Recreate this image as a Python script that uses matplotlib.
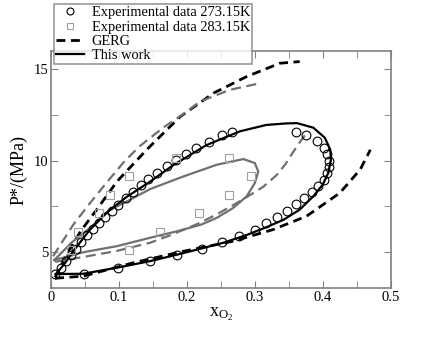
import matplotlib
matplotlib.use("Agg")
import matplotlib.pyplot as plt
from matplotlib.ticker import MultipleLocator
from matplotlib.lines import Line2D

plt.rcParams['font.family'] = ['Liberation Serif', 'DejaVu Serif']
plt.rcParams['mathtext.fontset'] = 'custom'
plt.rcParams['mathtext.rm'] = 'Liberation Serif'
plt.rcParams['mathtext.it'] = 'Liberation Serif'

# experimental data 273.15 K (circles)
exp273_x = [0.006, 0.014, 0.022, 0.029, 0.037, 0.044, 0.053, 0.062, 0.071, 0.080,
            0.089, 0.099, 0.110, 0.120, 0.133, 0.143, 0.156, 0.170, 0.184, 0.198,
            0.214, 0.232, 0.251, 0.266,
            0.360, 0.375, 0.392, 0.402, 0.406, 0.409, 0.409, 0.406, 0.402, 0.393,
            0.384, 0.373, 0.360, 0.348, 0.333, 0.317, 0.300, 0.276, 0.252, 0.222,
            0.185, 0.145, 0.098, 0.048]
exp273_p = [3.81, 4.13, 4.49, 4.85, 5.18, 5.53, 5.91, 6.26, 6.58, 6.91,
            7.24, 7.57, 7.93, 8.28, 8.68, 8.99, 9.32, 9.68, 10.04, 10.37,
            10.70, 11.04, 11.39, 11.57,
            11.57, 11.39, 11.07, 10.70, 10.37, 10.00, 9.64, 9.30, 8.95, 8.62,
            8.30, 7.97, 7.62, 7.26, 6.91, 6.56, 6.22, 5.87, 5.53, 5.18,
            4.84, 4.49, 4.14, 3.80]

# experimental data 283.15 K (squares)
exp283_x = [0.029, 0.040, 0.071, 0.087, 0.115, 0.184,
            0.262, 0.294, 0.262, 0.218, 0.160, 0.115]
exp283_p = [5.12, 6.10, 7.12, 8.11, 9.13, 10.13,
            10.15, 9.13, 8.11, 7.11, 6.11, 5.08]

# GERG 273.15 K
gerg273_x = [0.006, 0.025, 0.045, 0.067, 0.097, 0.141, 0.190, 0.239, 0.288, 0.337, 0.366]
gerg273_p = [3.60, 5.00, 6.20, 7.30, 8.85, 10.60, 12.40, 13.69, 14.60, 15.33, 15.42]
gerg273b_x = [0.006, 0.048, 0.121, 0.195, 0.268, 0.327, 0.376, 0.425, 0.455, 0.470]
gerg273b_p = [3.55, 3.67, 4.40, 5.03, 5.58, 6.22, 6.95, 8.22, 9.50, 10.59]

# GERG 283.15 K
gerg283_x = [0.003, 0.033, 0.058, 0.082, 0.109, 0.131, 0.165, 0.200, 0.219, 0.263, 0.307]
gerg283_p = [4.76, 6.50, 7.70, 8.80, 10.00, 10.80, 11.80, 12.68, 13.23, 13.87, 14.23]
gerg283b_x = [0.006, 0.048, 0.097, 0.146, 0.175, 0.214, 0.244, 0.278, 0.312, 0.332,
              0.345, 0.357, 0.367, 0.374]
gerg283b_p = [4.45, 4.72, 5.05, 5.50, 5.90, 6.50, 7.05, 7.77, 8.55, 9.20,
              9.80, 10.50, 11.05, 11.39]

# this work 273.15 K
work273_x = [0.007, 0.020, 0.033, 0.057, 0.082, 0.111, 0.146, 0.180, 0.229, 0.278,
             0.317, 0.345, 0.362, 0.386, 0.403, 0.411, 0.412, 0.408, 0.400, 0.386,
             0.366, 0.342, 0.317, 0.290, 0.254, 0.219, 0.185, 0.146, 0.097, 0.048, 0.007]
work273_p = [3.78, 4.35, 5.05, 6.20, 7.15, 8.00, 8.85, 9.75, 10.85, 11.60,
             11.95, 12.03, 12.05, 11.80, 11.25, 10.60, 10.04, 9.32, 8.68, 8.04,
             7.31, 6.75, 6.35, 5.95, 5.50, 5.16, 4.84, 4.49, 4.13, 3.80, 3.78]

# this work 283.15 K
work283_x = [0.005, 0.030, 0.057, 0.087, 0.111, 0.146, 0.195, 0.244, 0.283, 0.300,
             0.305, 0.300, 0.288, 0.268, 0.244, 0.221, 0.186, 0.146, 0.097, 0.048, 0.005]
work283_p = [4.55, 5.50, 6.30, 7.30, 7.75, 8.44, 9.13, 9.77, 10.08, 9.86,
             9.40, 8.77, 8.04, 7.40, 6.86, 6.49, 6.13, 5.77, 5.31, 4.98, 4.55]

grey = '#707070'
fig = plt.figure(figsize=(4.4, 3.4), dpi=100)
ax = fig.add_axes([0.116, 0.152, 0.772, 0.698])

ax.plot(gerg273_x, gerg273_p, color='black', lw=2.0, dashes=(3.2, 2))
ax.plot(gerg273b_x, gerg273b_p, color='black', lw=2.0, dashes=(3.2, 2))
ax.plot(gerg283_x, gerg283_p, color=grey, lw=1.6, dashes=(4.5, 2.5))
ax.plot(gerg283b_x, gerg283b_p, color=grey, lw=1.6, dashes=(4.5, 2.5))
ax.plot(work283_x, work283_p, color=grey, lw=1.6)
ax.plot(work273_x, work273_p, color='black', lw=1.6)
ax.plot(exp273_x, exp273_p, 'o', ms=6.3, mfc='none', mec='black', mew=0.8)
ax.plot(exp283_x, exp283_p, 's', ms=6, mfc='none', mec='#a0a0a0', mew=0.8)

ax.set_xlim(0, 0.5)
ax.set_ylim(3, 16)
ax.xaxis.set_minor_locator(MultipleLocator(0.05))
ax.yaxis.set_major_locator(MultipleLocator(5))
ax.yaxis.set_minor_locator(MultipleLocator(2.5))
ax.set_xticks([0, 0.1, 0.2, 0.3, 0.4, 0.5])
ax.set_xticklabels(['0', '0.1', '0.2', '0.3', '0.4', '0.5'])
ax.tick_params(which='both', direction='in', top=True, right=True,
               color='#808080', labelsize=10.5, pad=2, length=5)
for s in ax.spines.values():
    s.set_color('#808080')
    s.set_linewidth(1.2)

ax.set_xlabel(r'$\mathregular{x_{O_2}}$', fontsize=13, labelpad=1)
ax.set_ylabel('P*/(MPa)', fontsize=13, labelpad=4)

handles = [
    Line2D([], [], ls='none', marker='o', ms=5, mfc='none', mec='black', mew=0.8),
    Line2D([], [], ls='none', marker='s', ms=5, mfc='none', mec='#a0a0a0', mew=0.8),
    Line2D([], [], color='black', lw=2.0, dashes=(3.2, 2)),
    Line2D([], [], color='black', lw=1.6),
]
labels = ['Experimental data 273.15K', 'Experimental data 283.15K', 'GERG', 'This work']
leg = fig.legend(handles, labels, loc='upper left', bbox_to_anchor=(0.123, 0.988),
                 bbox_transform=fig.transFigure, fontsize=10.4, frameon=True,
                 fancybox=False, borderaxespad=0, borderpad=0.15, labelspacing=0.08,
                 handlelength=1.9, handletextpad=0.55, numpoints=1)
leg.get_frame().set_edgecolor('#808080')
leg.get_frame().set_linewidth(1.2)

fig.savefig('out.png', dpi=100)
